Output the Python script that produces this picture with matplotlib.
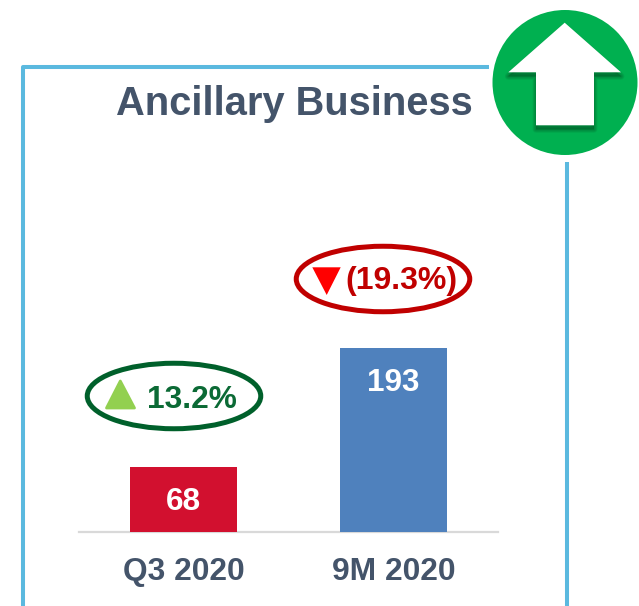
import matplotlib
matplotlib.use('Agg')
import matplotlib.pyplot as plt
from matplotlib.patches import Circle, Ellipse, Polygon

# data
categories = ['Q3 2020', '9M 2020']
values = [68, 193]
bar_colors = ['#D2102F', '#4F81BD']
changes = ['13.2%', '(19.3%)']
title = 'Ancillary Business'

W, H = 639, 606
plt.rcParams['font.family'] = ['Liberation Sans', 'DejaVu Sans']
plt.rcParams['font.weight'] = 'bold'

fig = plt.figure(figsize=(W / 100, H / 100), dpi=100)

# bar chart, axes placed in pixels
base_y = 532
ax = fig.add_axes([79 / W, (H - base_y) / H, 419 / W, 190.7 / H])
ax.patch.set_alpha(0)
ax.bar(range(len(values)), values, width=0.51, color=bar_colors, zorder=3)
ax.set_xlim(-0.5, 1.5)
ax.set_ylim(0, 200)
ax.set_yticks([])
ax.set_xticks(range(len(categories)))
ax.set_xticklabels(categories, fontsize=22.9, color='#44546A', fontweight='bold')
ax.tick_params(axis='x', length=0, pad=18)
for s in ['top', 'left', 'right']:
    ax.spines[s].set_visible(False)
ax.spines['bottom'].set_color('#D9D9D9')
ax.spines['bottom'].set_linewidth(1.6)

# value labels inside the bars
for i, v in enumerate(values):
    ax.annotate(str(v), (i, v), xytext=(0, -31), textcoords='offset points',
                ha='center', va='baseline', color='white', fontsize=22.7,
                fontweight='bold', zorder=4)

# overlay in image pixels for the frame and the callouts
ov = fig.add_axes([0, 0, 1, 1])
ov.set_xlim(0, W)
ov.set_ylim(H, 0)
ov.axis('off')
ov.patch.set_alpha(0)

# frame
frame = '#5BB9DF'
ov.plot([23, 23, 489], [H + 5, 66.5, 66.5], color=frame, lw=2.9,
        solid_joinstyle='round', solid_capstyle='butt')
ov.plot([567, 567], [162, H + 5], color=frame, lw=2.9, solid_capstyle='butt')

ov.text(294.5, 115, title, ha='center', va='baseline', fontsize=28.7,
        color='#44546A', fontweight='bold')

# callouts
ov.add_patch(Ellipse((174, 396), 173.5, 65.5, fill=False, ec='#00602B', lw=3.6))
ov.add_patch(Polygon([(120.3, 381), (106.5, 408), (134.5, 408)], closed=True,
                     fc='#92D050', ec='#92D050', lw=2, joinstyle='round'))
ov.text(191.5, 408, changes[0], ha='center', va='baseline', fontsize=22.8,
        color='#0B6A35', fontweight='bold')

ov.add_patch(Ellipse((383, 279), 173.5, 65.5, fill=False, ec='#C00000', lw=3.6))
ov.add_patch(Polygon([(312.3, 267.3), (340.7, 267.3), (326.7, 295)], closed=True,
                     fc='#FF0000', ec='none'))
ov.text(401.7, 288.5, changes[1], ha='center', va='baseline', fontsize=23,
        color='#C00000', fontweight='bold')

# green badge with the white arrow
circle = Circle((565, 82.5), 72.5, fc='#00B050', ec='none', zorder=5)
ov.add_patch(circle)
arrow = [(564.7, 22.7), (621, 72.3), (594, 72.3), (594, 125.3),
         (536, 125.3), (536, 72.3), (508.3, 72.3)]
# soft shadow under the arrow
for lw in [5, 4, 3, 2, 1, 0.3]:
    sh = Polygon([(x, y + 4) for x, y in arrow], closed=True, fc='#00602B',
                 ec='#00602B', lw=lw, alpha=0.12, zorder=6, joinstyle='round')
    ov.add_patch(sh)
ov.add_patch(Polygon(arrow, closed=True, fc='white', ec='none', zorder=7))

fig.savefig('out.png', dpi=100)
